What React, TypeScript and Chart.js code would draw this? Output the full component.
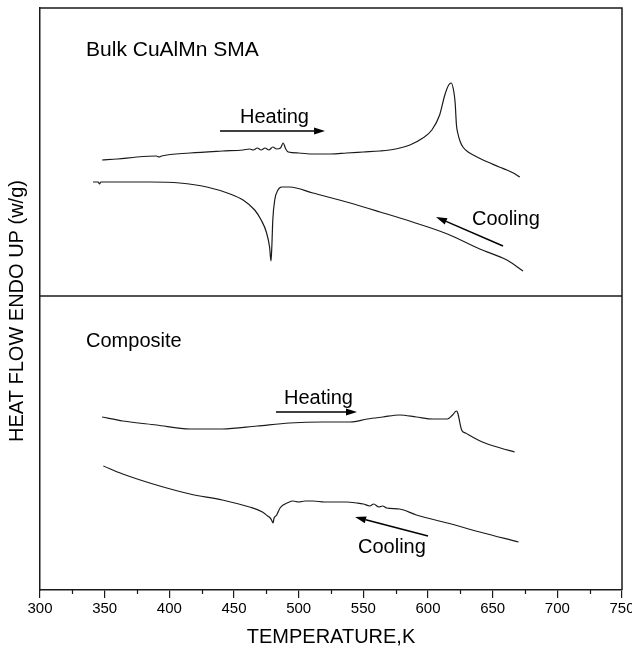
import React, { useEffect, useRef } from 'react';
import { Chart, registerables } from 'chart.js';

Chart.register(...registerables);

// Temperature (K) and heat flow (arbitrary units)
const bulkHeatT = [348, 360, 375, 390, 392, 394, 416, 441, 457, 462, 465, 468, 471, 474, 477, 480, 483, 486, 488, 490, 492, 500, 511, 525, 537, 550, 563, 575, 586, 596, 603, 609, 613, 616, 618, 620, 621, 622, 623, 625, 627, 631, 635, 641, 648, 655, 661, 666, 671];
const bulkHeatV = [43.0, 43.1, 43.3, 43.4, 43.3, 43.4, 43.7, 43.9, 44.0, 44.1, 44.0, 44.2, 44.0, 44.2, 44.0, 44.3, 44.1, 44.2, 44.7, 44.1, 43.8, 43.7, 43.6, 43.6, 43.7, 43.8, 43.9, 44.1, 44.5, 45.2, 46.0, 47.5, 49.5, 50.5, 50.7, 49.8, 48.7, 46.5, 45.7, 44.8, 44.3, 43.8, 43.5, 43.1, 42.7, 42.3, 42.0, 41.7, 41.3];

const bulkCoolT = [341, 345, 346, 347, 385, 408, 429, 447, 457, 466, 471, 475, 477.5, 478.6, 479.3, 480, 481.5, 484, 487, 493, 511, 537, 563, 588, 615, 640, 661, 673.5];
const bulkCoolV = [40.8, 40.8, 40.6, 40.8, 40.8, 40.7, 40.3, 39.6, 39.0, 38.0, 37.0, 35.8, 34.3, 32.9, 34.5, 37.0, 39.0, 40.0, 40.3, 40.3, 39.7, 38.8, 37.8, 36.8, 35.6, 34.1, 33.0, 31.9];

const compHeatT = [348, 364, 390, 416, 441, 468, 493, 519, 540, 553, 565, 578, 591, 604, 615, 619, 622, 623, 626, 629, 642, 656, 667];
const compHeatV = [17.3, 16.9, 16.5, 16.1, 16.1, 16.4, 16.7, 16.8, 16.8, 17.1, 17.3, 17.5, 17.3, 17.1, 17.1, 17.5, 17.9, 17.7, 16.0, 15.7, 14.8, 14.2, 13.8];

const compCoolT = [349, 364, 390, 416, 441, 462, 472, 476, 478, 479, 480.2, 481, 483, 485.6, 488, 491, 495.6, 500, 505, 511, 520, 537, 545, 550, 555, 558, 562, 565, 568, 578, 591, 615, 640, 670];
const compCoolV = [12.4, 11.6, 10.5, 9.6, 9.0, 8.3, 7.8, 7.4, 7.2, 7.0, 6.7, 7.2, 7.5, 8.2, 8.5, 8.7, 8.9, 8.8, 8.9, 8.9, 8.8, 8.8, 8.7, 8.6, 8.4, 8.6, 8.3, 8.4, 8.2, 8.1, 7.5, 6.7, 5.8, 4.8];

const xTickLabels = ['300', '350', '400', '450', '500', '550', '600', '650', '700', '750'];
const minorTickT = [325, 375, 425, 475, 525, 575, 625, 675, 725];
const dividerT = [300, 750];
const dividerV = [29.4, 29.4];

const zip = (xs: number[], ys: number[]) => xs.map((x, i) => ({ x, y: ys[i] }));

const INK = '#1a1a1a';
const FONT = '"Liberation Sans", Arial, sans-serif';
const Y_TITLE = 'HEAT FLOW ENDO UP (w/g)';

const notes = [
  { text: 'Bulk CuAlMn SMA', x: 335.6, y: 53.4, size: 21 },
  { text: 'Heating', x: 454.6, y: 46.7, size: 20 },
  { text: 'Cooling', x: 634.0, y: 36.5, size: 20 },
  { text: 'Composite', x: 335.6, y: 24.3, size: 20 },
  { text: 'Heating', x: 488.7, y: 18.6, size: 20 },
  { text: 'Cooling', x: 545.9, y: 3.7, size: 20 },
];

const arrows = [
  { x0: 439.2, y0: 45.9, x1: 520.4, y1: 45.9 },
  { x0: 658.0, y0: 34.4, x1: 606.2, y1: 37.3 },
  { x0: 482.5, y0: 17.8, x1: 545.1, y1: 17.8 },
  { x0: 600.0, y0: 5.4, x1: 543.6, y1: 7.3 },
];

const overlay = {
  id: 'overlay',
  afterDraw(chart: any) {
    const { ctx, chartArea: a, scales } = chart;
    const x = scales.x;
    const y = scales.y;
    ctx.save();
    ctx.strokeStyle = INK;
    ctx.lineWidth = 1.5;
    ctx.beginPath();
    ctx.moveTo(a.left, a.top);
    ctx.lineTo(a.right, a.top);
    ctx.lineTo(a.right, a.bottom);
    ctx.stroke();

    ctx.lineWidth = 1.2;
    ctx.beginPath();
    for (const t of minorTickT) {
      const px = Math.round(x.getPixelForValue(t)) + 0.5;
      ctx.moveTo(px, a.bottom);
      ctx.lineTo(px, a.bottom + 4);
    }
    ctx.stroke();

    // y-axis title
    ctx.fillStyle = '#000';
    ctx.font = `20px ${FONT}`;
    ctx.textAlign = 'center';
    ctx.textBaseline = 'middle';
    ctx.save();
    ctx.translate(a.left - 23, (a.top + a.bottom) / 2 + 12);
    ctx.rotate(-Math.PI / 2);
    ctx.fillText(Y_TITLE, 0, 0);
    ctx.restore();

    ctx.textAlign = 'left';
    ctx.textBaseline = 'alphabetic';
    for (const n of notes) {
      ctx.font = `${n.size}px ${FONT}`;
      ctx.fillText(n.text, x.getPixelForValue(n.x), y.getPixelForValue(n.y));
    }

    ctx.strokeStyle = '#000';
    ctx.fillStyle = '#000';
    ctx.lineWidth = 1.5;
    for (const ar of arrows) {
      const px0 = x.getPixelForValue(ar.x0);
      const py0 = y.getPixelForValue(ar.y0);
      const px1 = x.getPixelForValue(ar.x1);
      const py1 = y.getPixelForValue(ar.y1);
      const ang = Math.atan2(py1 - py0, px1 - px0);
      const hl = 11;
      const hw = 3.5;
      const bx = px1 - hl * Math.cos(ang);
      const by = py1 - hl * Math.sin(ang);
      ctx.beginPath();
      ctx.moveTo(px0, py0);
      ctx.lineTo(bx, by);
      ctx.stroke();
      ctx.beginPath();
      ctx.moveTo(px1, py1);
      ctx.lineTo(bx + hw * Math.sin(ang), by - hw * Math.cos(ang));
      ctx.lineTo(bx - hw * Math.sin(ang), by + hw * Math.cos(ang));
      ctx.closePath();
      ctx.fill();
    }
    ctx.restore();
  },
};

export default function App() {
  const ref = useRef<HTMLCanvasElement | null>(null);
  useEffect(() => {
    document.body.style.margin = '0';
    Chart.defaults.font.family = FONT;
    const curve = (data: any) => ({
      data,
      borderColor: INK,
      borderWidth: 1.2,
      pointRadius: 0,
      fill: false,
      cubicInterpolationMode: 'monotone' as const,
    });
    const chart = new Chart(ref.current as HTMLCanvasElement, {
      type: 'line',
      data: {
        datasets: [
          curve(zip(bulkHeatT, bulkHeatV)),
          curve(zip(bulkCoolT, bulkCoolV)),
          curve(zip(compHeatT, compHeatV)),
          curve(zip(compCoolT, compCoolV)),
          { data: zip(dividerT, dividerV), borderColor: INK, borderWidth: 1.5, pointRadius: 0, fill: false },
        ],
      },
      options: {
        animation: false,
        responsive: false,
        layout: { padding: { left: 0, right: 10, top: 8, bottom: 0 } },
        plugins: { legend: { display: false }, tooltip: { enabled: false } },
        scales: {
          x: {
            type: 'linear',
            min: 300,
            max: 750,
            ticks: {
              stepSize: 50,
              color: '#000',
              font: { size: 15 },
              padding: 2,
              maxRotation: 0,
              callback: (v: any) => {
                const s = String(v);
                return xTickLabels.includes(s) ? s : '';
              },
            },
            grid: { display: true, drawOnChartArea: false, drawTicks: true, tickLength: 8, color: INK, lineWidth: 1.2 },
            border: { display: true, color: INK, width: 1.5 },
            title: { display: true, text: 'TEMPERATURE,K', color: '#000', font: { size: 20 }, padding: { top: 0, bottom: 5 } },
            afterFit: (s: any) => {
              s.height = 64;
              s.paddingLeft = 0;
              s.paddingRight = 0;
            },
          },
          y: {
            type: 'linear',
            min: 0,
            max: 58.2,
            ticks: { display: false },
            grid: { display: false },
            border: { display: true, color: INK, width: 1.5 },
            title: { display: false },
            afterFit: (s: any) => {
              s.width = 40;
              s.paddingTop = 0;
              s.paddingBottom = 0;
            },
          },
        },
      },
      plugins: [overlay],
    });
    return () => chart.destroy();
  }, []);
  return (
    <div style={{ width: 632, height: 654 }}>
      <canvas ref={ref} width={632} height={654} style={{ display: 'block' }} />
    </div>
  );
}
